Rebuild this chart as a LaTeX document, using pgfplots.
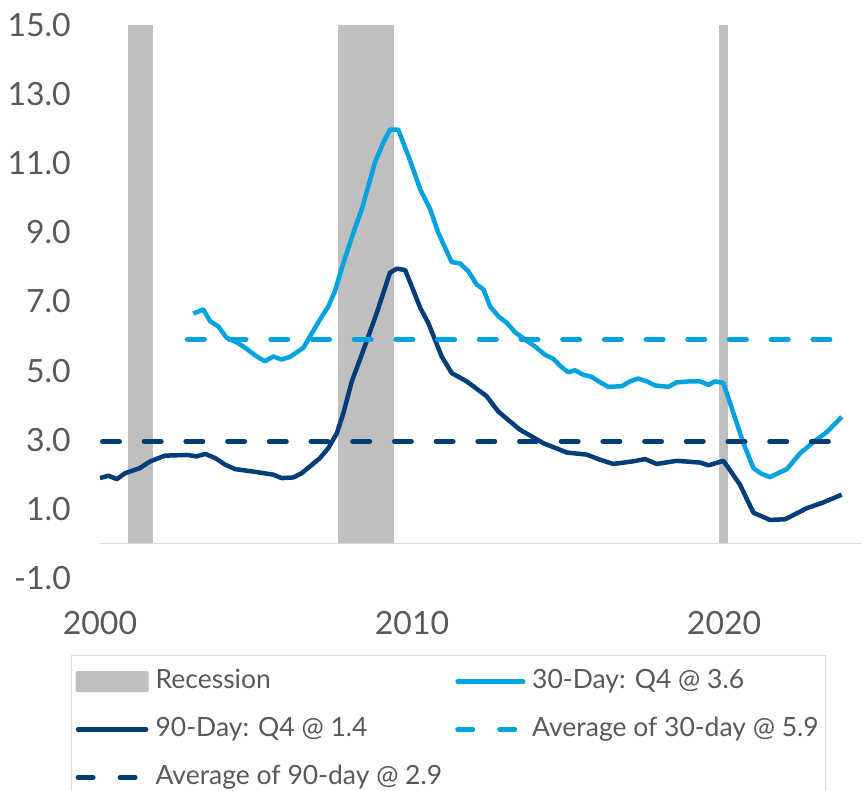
\documentclass[border=0pt]{standalone}
\usepackage{fontspec}
\setmainfont{Lato}
\usepackage{pgfplots}
\pgfplotsset{compat=1.18}
\definecolor{lblue}{HTML}{00A3E0}
\definecolor{dblue}{HTML}{003D79}
\definecolor{recgray}{HTML}{BFBFBF}
\definecolor{txtgray}{HTML}{595959}
\definecolor{axgray}{HTML}{D9D9D9}
\begin{document}
\begin{tikzpicture}
\begin{axis}[
  at={(0pt,0pt)}, anchor=south west,
  scale only axis, width=762pt, height=553pt,
  xmin=2000, xmax=2024.42, ymin=-1, ymax=15,
  axis line style={draw=none},
  major tick length=0pt, tick style={draw=none},
  xtick={2000,2010,2020}, xticklabels={2000,2010,2020},
  ytick={-1,1,3,5,7,9,11,13,15},
  yticklabels={-1.0,1.0,3.0,5.0,7.0,9.0,11.0,13.0,15.0},
  ticklabel style={font=\fontsize{32}{38}\selectfont, text=txtgray},
  yticklabel style={anchor=east, inner sep=0pt, xshift=-29pt},
  xticklabel style={anchor=north, inner sep=0pt, yshift=-32.7pt},
  legend columns=2,
  legend cell align=left,
  legend style={at={(axis description cs:-0.03806,-0.1392)}, anchor=north west,
    draw=axgray, line width=1.2pt, inner xsep=4pt, inner ysep=10pt,
    font=\fontsize{26.5}{31}\selectfont, text=txtgray,
    row sep=16pt,
    nodes={inner sep=3pt, text height=20pt, text depth=6pt},
    /tikz/every even column/.append style={column sep=10pt}},
]
\addplot[fill=recgray, draw=none, area legend,
  legend image code/.code={\path[draw=none, fill=none] (0pt,-10.5pt) rectangle (77pt,10.5pt); \fill[recgray, draw=none, rounded corners=2pt] (0pt,-10.5pt) rectangle (73pt,10.5pt);}]
  coordinates {(2000.91,0) (2000.91,15) (2001.69,15) (2001.69,0)} --cycle;
\addlegendentry{Recession}
\addplot[fill=recgray, draw=none, forget plot]
  coordinates {(2007.64,0) (2007.64,15) (2009.42,15) (2009.42,0)} --cycle;
\addplot[fill=recgray, draw=none, forget plot]
  coordinates {(2019.85,0) (2019.85,15) (2020.14,15) (2020.14,0)} --cycle;
\addplot[draw=axgray, line width=1.5pt, forget plot] coordinates {(2000,0) (2024.42,0)};

\addplot[lblue, line width=4.5pt, line join=round,
  legend image code/.code={\path[draw=none, fill=none] (0pt,-10.5pt) rectangle (74pt,10.5pt); \draw[lblue, line width=4.5pt, line cap=round] (2.5pt,0pt) -- (68pt,0pt);}]
  coordinates {
(2002.99,6.65)(2003.31,6.77)(2003.53,6.43)(2003.79,6.28)(2004.06,5.95)(2004.38,5.82)(2004.70,5.63)(2005.02,5.41)(2005.29,5.27)(2005.55,5.41)(2005.82,5.32)(2006.09,5.40)(2006.52,5.66)(2006.73,5.99)(2007.05,6.48)(2007.32,6.86)(2007.53,7.30)(2007.80,8.12)(2008.12,8.99)(2008.39,9.67)(2008.60,10.34)(2008.81,11.02)(2009.08,11.60)(2009.29,11.97)(2009.56,11.97)(2009.94,11.07)(2010.26,10.25)(2010.58,9.67)(2010.84,8.99)(2011.27,8.14)(2011.54,8.10)(2011.80,7.88)(2012.07,7.49)(2012.29,7.35)(2012.50,6.86)(2012.77,6.57)(2013.04,6.38)(2013.30,6.11)(2013.62,5.90)(2013.94,5.70)(2014.26,5.46)(2014.53,5.34)(2014.74,5.14)(2015.01,4.95)(2015.22,5.01)(2015.49,4.88)(2015.76,4.82)(2016.03,4.66)(2016.29,4.53)(2016.72,4.55)(2016.99,4.69)(2017.25,4.77)(2017.52,4.69)(2017.79,4.57)(2018.21,4.53)(2018.48,4.66)(2018.91,4.69)(2019.23,4.69)(2019.50,4.59)(2019.71,4.69)(2019.98,4.64)(2020.30,3.77)(2020.62,2.90)(2020.94,2.18)(2021.21,2.01)(2021.47,1.92)(2022.01,2.15)(2022.44,2.61)(2022.86,2.93)(2023.29,3.22)(2023.77,3.66)
  };
\addlegendentry{30-Day: Q4 @ 3.6}

\addplot[dblue, line width=4.5pt, line join=round,
  legend image code/.code={\path[draw=none, fill=none] (0pt,-10.5pt) rectangle (77pt,10.5pt); \draw[dblue, line width=4.5pt, line cap=round] (2.5pt,0pt) -- (70.5pt,0pt);}]
  coordinates {
(2000.00,1.89)(2000.27,1.96)(2000.54,1.86)(2000.80,2.03)(2001.28,2.18)(2001.60,2.37)(2002.08,2.54)(2002.78,2.56)(2003.10,2.52)(2003.37,2.59)(2003.69,2.47)(2004.01,2.28)(2004.33,2.15)(2004.91,2.08)(2005.55,1.99)(2005.82,1.89)(2006.20,1.91)(2006.46,2.03)(2006.73,2.23)(2007.05,2.47)(2007.32,2.76)(2007.59,3.19)(2007.80,3.77)(2008.07,4.69)(2008.33,5.32)(2008.60,5.99)(2008.87,6.67)(2009.08,7.25)(2009.29,7.83)(2009.51,7.95)(2009.78,7.91)(2009.99,7.44)(2010.26,6.82)(2010.52,6.38)(2010.95,5.41)(2011.27,4.93)(2011.75,4.69)(2012.39,4.26)(2012.76,3.82)(2013.14,3.53)(2013.46,3.29)(2014.21,2.90)(2014.96,2.63)(2015.60,2.57)(2016.03,2.42)(2016.45,2.30)(2017.05,2.37)(2017.47,2.44)(2017.84,2.30)(2018.48,2.39)(2019.23,2.34)(2019.50,2.26)(2019.98,2.39)(2020.51,1.70)(2020.94,0.89)(2021.47,0.68)(2021.96,0.70)(2022.65,1.02)(2023.13,1.17)(2023.77,1.41)
  };
\addlegendentry{90-Day: Q4 @ 1.4}

\addplot[lblue, line width=5pt, line cap=round, dash pattern=on 17pt off 24.7pt,
  legend image code/.code={\path[draw=none, fill=none] (0pt,-10.5pt) rectangle (74pt,10.5pt); \draw[lblue, line width=5pt, line cap=round, dash pattern=on 15pt off 27pt] (2.5pt,0pt) -- (60.5pt,0pt);}]
  coordinates {(2002.80,5.90) (2023.70,5.90)};
\addlegendentry{Average of 30-day @ 5.9}

\addplot[dblue, line width=5pt, line cap=round, dash pattern=on 17pt off 24.7pt,
  legend image code/.code={\path[draw=none, fill=none] (0pt,-10.5pt) rectangle (77pt,10.5pt); \draw[dblue, line width=5pt, line cap=round, dash pattern=on 15pt off 27pt] (2.5pt,0pt) -- (60.5pt,0pt);}]
  coordinates {(2000.08,2.95) (2023.70,2.95)};
\addlegendentry{Average of 90-day @ 2.9}
\end{axis}
\pgfresetboundingbox
\path[use as bounding box] (-100pt,-213pt) rectangle (767pt,578pt);
\end{tikzpicture}
\end{document}
